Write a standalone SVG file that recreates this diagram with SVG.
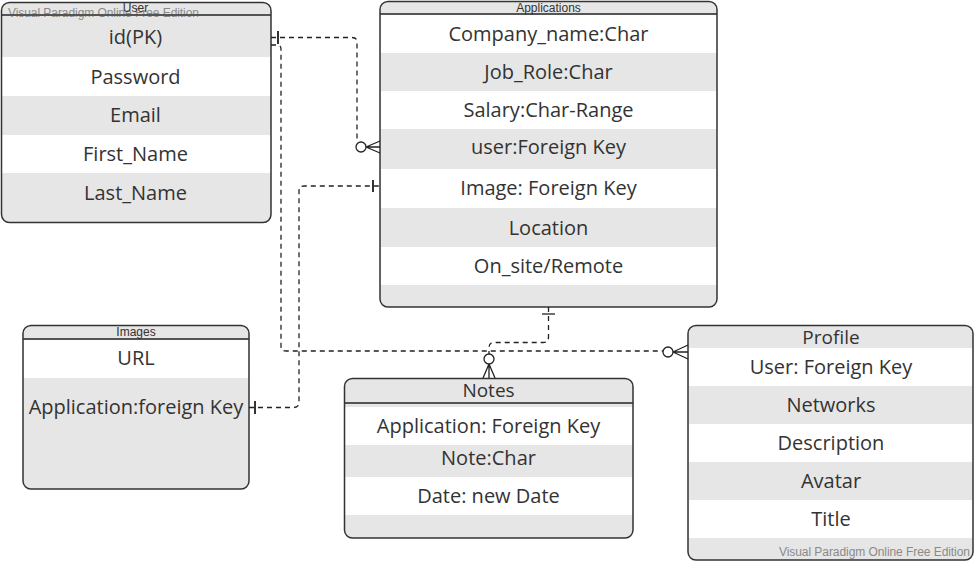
<svg xmlns="http://www.w3.org/2000/svg" width="977" height="562" viewBox="0 0 977 562">
<style>
.box{fill:#e6e6e6;stroke:none}
.frame{fill:none;stroke:#333;stroke-width:1.5}
.wrow{fill:#fff;stroke:none}
.hline{stroke:#555;stroke-width:2}
.row{font-family:"Open Sans","Noto Sans",sans-serif;font-size:20px;fill:#333;text-anchor:middle}
.title{font-family:"Open Sans","Noto Sans",sans-serif;font-size:19px;fill:#333;text-anchor:middle}
.hdr{font-family:"Liberation Sans",Arial,sans-serif;font-size:12px;fill:#333;text-anchor:middle}
.wm{font-family:"Liberation Sans",Arial,sans-serif;font-size:12px;fill:#8a8a8a}
.conn{fill:none;stroke:#222;stroke-width:1.3;stroke-dasharray:5,4}
.sym{fill:none;stroke:#222;stroke-width:1.3}
.bar{fill:none;stroke:#333;stroke-width:2}
</style>
<rect width="977" height="562" fill="#fff"/>

<g id="user">
<rect class="box" x="1.5" y="2.5" width="269.5" height="220" rx="8"/>
<rect class="wrow" x="2" y="57" width="268.5" height="39"/>
<rect class="wrow" x="2" y="135" width="268.5" height="38"/>
<text class="wm" x="8" y="17" textLength="191">Visual Paradigm Online Free Edition</text>
<line class="hline" x1="1.5" y1="15" x2="271" y2="15"/>
<text class="hdr" x="135.5" y="12">User</text>
<text class="row" x="135.5" y="44">id(PK)</text>
<text class="row" x="135.5" y="84">Password</text>
<text class="row" x="135.5" y="122">Email</text>
<text class="row" x="135.5" y="161">First_Name</text>
<text class="row" x="135.5" y="200">Last_Name</text>
<rect class="frame" x="1.5" y="2.5" width="269.5" height="220" rx="8"/>
</g>

<g id="applications">
<rect class="box" x="380" y="1.5" width="337" height="305.5" rx="8"/>
<rect class="wrow" x="380.8" y="15" width="335.5" height="38"/>
<rect class="wrow" x="380.8" y="91" width="335.5" height="38"/>
<rect class="wrow" x="380.8" y="169" width="335.5" height="39"/>
<rect class="wrow" x="380.8" y="247" width="335.5" height="38"/>
<line class="hline" x1="380" y1="14" x2="717" y2="14"/>
<text class="hdr" x="548.5" y="11.5">Applications</text>
<text class="row" x="548.5" y="41">Company_name:Char</text>
<text class="row" x="548.5" y="79">Job_Role:Char</text>
<text class="row" x="548.5" y="117">Salary:Char-Range</text>
<text class="row" x="548.5" y="154">user:Foreign Key</text>
<text class="row" x="548.5" y="195">Image: Foreign Key</text>
<text class="row" x="548.5" y="235">Location</text>
<text class="row" x="548.5" y="273">On_site/Remote</text>
<rect class="frame" x="380" y="1.5" width="337" height="305.5" rx="8"/>
</g>

<g id="images">
<rect class="box" x="23" y="325.5" width="226" height="163.5" rx="8"/>
<rect class="wrow" x="23.8" y="339" width="224.5" height="39"/>
<line class="hline" x1="23" y1="339" x2="249" y2="339"/>
<text class="hdr" x="136" y="336">Images</text>
<text class="row" x="136" y="365">URL</text>
<text class="row" x="136" y="414">Application:foreign Key</text>
<rect class="frame" x="23" y="325.5" width="226" height="163.5" rx="8"/>
</g>

<g id="notes">
<rect class="box" x="344.5" y="378.5" width="288.5" height="159.5" rx="8"/>
<rect class="wrow" x="345.3" y="407" width="287" height="38"/>
<rect class="wrow" x="345.3" y="477" width="287" height="38"/>
<line class="hline" x1="344.5" y1="403" x2="633" y2="403"/>
<text class="title" x="488.5" y="397">Notes</text>
<text class="row" x="488.5" y="433">Application: Foreign Key</text>
<text class="row" x="488.5" y="465">Note:Char</text>
<text class="row" x="488.5" y="503">Date: new Date</text>
<rect class="frame" x="344.5" y="378.5" width="288.5" height="159.5" rx="8"/>
</g>

<g id="profile">
<rect class="box" x="688" y="325.5" width="285" height="234.5" rx="8"/>
<rect class="wrow" x="688.8" y="348" width="283.5" height="38"/>
<rect class="wrow" x="688.8" y="424" width="283.5" height="38"/>
<rect class="wrow" x="688.8" y="500" width="283.5" height="38"/>
<text class="title" x="831" y="344">Profile</text>
<text class="row" x="831" y="374">User: Foreign Key</text>
<text class="row" x="831" y="412">Networks</text>
<text class="row" x="831" y="450">Description</text>
<text class="row" x="831" y="488">Avatar</text>
<text class="row" x="831" y="526">Title</text>
<text class="wm" x="970" y="556" text-anchor="end" textLength="191">Visual Paradigm Online Free Edition</text>
<rect class="frame" x="688" y="325.5" width="285" height="234.5" rx="8"/>
</g>

<g id="connectors">
<path class="conn" d="M271,37.5 H352 Q357,37.5 357,42 V141"/>
<line class="bar" x1="278" y1="31" x2="278" y2="44"/>
<circle class="sym" cx="361" cy="147" r="5"/>
<path class="sym" d="M366,147 L380,141 M366,147 L380,153 M366,147 H380"/>
<path class="conn" d="M271,45 H277 Q281,45 281,49 V346 Q281,351 286,351 H663"/>
<circle class="sym" cx="668" cy="352" r="5"/>
<path class="sym" d="M673,352 L688,345 M673,352 L688,359 M673,352 H688"/>
<path class="conn" d="M249,407.5 H294 Q299,407.5 299,402 V191 Q299,186 304,186 H380"/>
<line class="bar" x1="255" y1="401" x2="255" y2="414"/>
<line class="bar" x1="373" y1="180" x2="373" y2="192"/>
<path class="conn" d="M548.5,307 V337 Q548.5,342.5 543,342.5 H494 Q489,342.5 489,348 V354"/>
<line class="sym" x1="542" y1="314" x2="555" y2="314"/>
<circle class="sym" cx="489" cy="359" r="5"/>
<path class="sym" d="M489,364 L483,378 M489,364 L495,378 M489,364 V378"/>
</g>
</svg>
